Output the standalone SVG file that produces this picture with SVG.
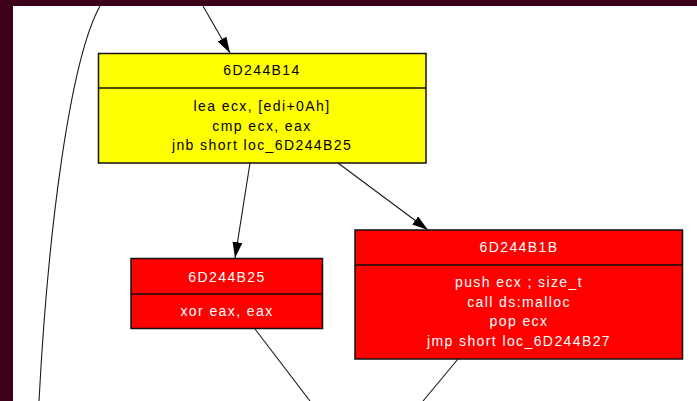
<svg xmlns="http://www.w3.org/2000/svg" width="697" height="401" viewBox="0 0 697 401">
<style>
.box{stroke:#111;stroke-width:1.5}
.div{stroke:#111;stroke-width:1.5}
.t{font-family:"Liberation Sans",Arial,sans-serif;font-size:14px;letter-spacing:1.4px;text-anchor:middle}
.dk{fill:#000}
.wt{fill:#fff}
.edge{fill:none;stroke:#1a1a1a;stroke-width:1.1}
</style>
<defs>
<marker id="ah" markerUnits="userSpaceOnUse" markerWidth="17" markerHeight="11" refX="16" refY="5" orient="auto">
<path d="M0,0 L16,5 L0,10 z" fill="#000"/>
</marker>
</defs>
<rect x="0" y="0" width="697" height="401" fill="#3d0019"/>
<rect x="13" y="6" width="684" height="395" fill="#fff"/>
<g id="edges">
<path class="edge" d="M100,6 C70,60 48,230 39,401"/>
<path class="edge" d="M203,6 L230,53" marker-end="url(#ah)"/>
<path class="edge" d="M250,163 L235,258" marker-end="url(#ah)"/>
<path class="edge" d="M338,163 L428,230" marker-end="url(#ah)"/>
<path class="edge" d="M255,329 L310,401"/>
<path class="edge" d="M458,359 L423,401"/>
</g>
<g id="n6D244B14">
<rect class="box" x="98.5" y="53.5" width="327.5" height="109.5" fill="#ffff00"/>
<line class="div" x1="98.5" y1="88" x2="426" y2="88"/>
<text class="t dk" x="262" y="75">6D244B14</text>
<text class="t dk" x="262" y="111">lea ecx, [edi+0Ah]</text>
<text class="t dk" x="262" y="130.5">cmp ecx, eax</text>
<text class="t dk" x="262" y="150">jnb short loc_6D244B25</text>
</g>
<g id="n6D244B25">
<rect class="box" x="131" y="258.5" width="191.5" height="70" fill="#ff0000"/>
<line class="div" x1="131" y1="294" x2="322.5" y2="294"/>
<text class="t wt" x="227" y="281.5">6D244B25</text>
<text class="t wt" x="227" y="316">xor eax, eax</text>
</g>
<g id="n6D244B1B">
<rect class="box" x="355" y="230" width="327.5" height="129" fill="#ff0000"/>
<line class="div" x1="355" y1="265" x2="682.5" y2="265"/>
<text class="t wt" x="519" y="252">6D244B1B</text>
<text class="t wt" x="519" y="287">push ecx ; size_t</text>
<text class="t wt" x="519" y="306.5">call ds:malloc</text>
<text class="t wt" x="519" y="326">pop ecx</text>
<text class="t wt" x="519" y="345.5">jmp short loc_6D244B27</text>
</g>
</svg>
